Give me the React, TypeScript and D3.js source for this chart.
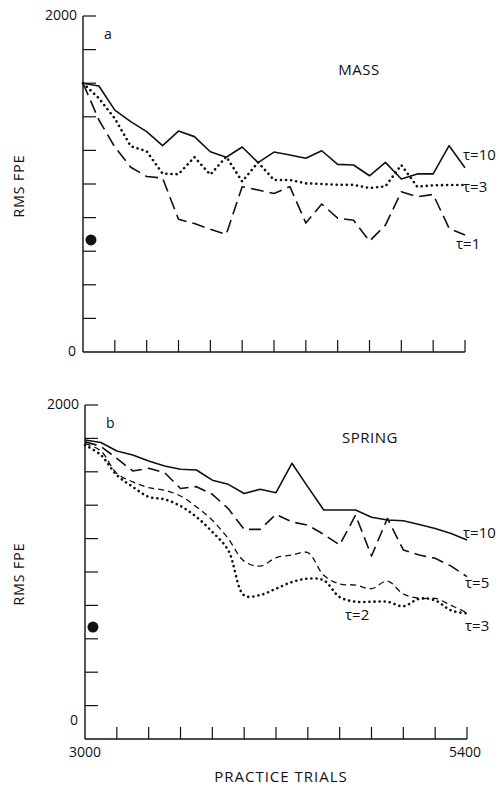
import React from "react";
import * as d3 from "d3";

const trials = [3000, 3100, 3200, 3300, 3400, 3500, 3600, 3700, 3800, 3900, 4000, 4100, 4200, 4300, 4400, 4500, 4600, 4700, 4800, 4900, 5000, 5100, 5200, 5300, 5400];

// Panel a: MASS
const massTau10 = [1600, 1583, 1440, 1371, 1312, 1228, 1315, 1282, 1192, 1159, 1220, 1127, 1190, 1173, 1153, 1198, 1117, 1113, 1049, 1129, 1030, 1060, 1060, 1228, 1097];
const massTau3 = [1600, 1510, 1390, 1225, 1195, 1062, 1058, 1160, 1056, 1163, 1015, 1129, 1024, 1024, 1004, 1000, 995, 995, 976, 986, 1113, 984, 992, 994, 994];
const massTau1 = [1600, 1381, 1220, 1100, 1045, 1035, 790, 765, 730, 700, 984, 964, 944, 984, 768, 881, 797, 784, 660, 755, 954, 924, 938, 736, 696];

// Panel b: SPRING
const springTau10 = [1790, 1775, 1725, 1700, 1665, 1635, 1615, 1611, 1550, 1525, 1470, 1495, 1475, 1651, 1510, 1371, 1371, 1371, 1328, 1311, 1307, 1285, 1261, 1230, 1192];
const springTau5 = [1780, 1752, 1680, 1605, 1621, 1595, 1500, 1511, 1465, 1380, 1255, 1255, 1345, 1300, 1280, 1225, 1162, 1341, 1096, 1321, 1132, 1102, 1082, 1035, 972];
const springTau3 = [1770, 1725, 1590, 1540, 1505, 1490, 1455, 1390, 1310, 1200, 1065, 1035, 1085, 1102, 1116, 980, 928, 922, 900, 946, 868, 842, 842, 800, 756];
const springTau2 = [1760, 1700, 1580, 1510, 1450, 1435, 1395, 1330, 1240, 1130, 860, 862, 900, 940, 960, 950, 850, 822, 822, 822, 795, 840, 830, 770, 752];

const yTicks = [200, 400, 600, 800, 1000, 1200, 1400, 1600, 1800, 2000];
const xTicks = [3200, 3400, 3600, 3800, 4000, 4200, 4400, 4600, 4800, 5000, 5200, 5400];

const pointA = { trial: 3050, value: 667 };
const pointB = { trial: 3050, value: 670 };

const FONT = "'Open Sans', 'DejaVu Sans', sans-serif";

type SeriesDef = {
  values: number[];
  dash: string | null;
  width: number;
  cap: string;
  curve: any;
};

function Panel(props: {
  x0: number; x1: number; yTop: number; yBottom: number;
  letter: string; title: string; titleX: number; titleY: number;
  series: SeriesDef[]; labels: { text: string; x: number; y: number }[];
  dot: { trial: number; value: number };
  zeroDy: number;
}) {
  const x = d3.scaleLinear().domain([3000, 5400]).range([props.x0, props.x1]);
  const y = d3.scaleLinear().domain([0, 2000]).range([props.yBottom, props.yTop]);
  return (
    <g>
      <line x1={x(3000)} x2={x(3000)} y1={y(0)} y2={y(2000)} stroke="#111" strokeWidth={1.4} />
      <line x1={x(3000)} x2={x(5400)} y1={y(0)} y2={y(0)} stroke="#111" strokeWidth={1.4} />
      {yTicks.map((t) => (
        <line key={"y" + t} x1={x(3000)} x2={x(3000) + 13} y1={y(t)} y2={y(t)} stroke="#111" strokeWidth={1.2} />
      ))}
      {xTicks.map((t) => (
        <line key={"x" + t} x1={x(t)} x2={x(t)} y1={y(0)} y2={y(0) - 12} stroke="#111" strokeWidth={1.2} />
      ))}
      <text x={x(3000) - 6} y={y(2000)} fontFamily={FONT} fontSize={14} textAnchor="end" dominantBaseline="middle" fill="#111">2000</text>
      <text x={x(3000) - 7} y={y(0) + props.zeroDy} fontFamily={FONT} fontSize={14} textAnchor="end" dominantBaseline="middle" fill="#111">0</text>
      <text x={props.x0 + 21} y={props.yTop + 19} fontFamily={FONT} fontSize={14} dominantBaseline="middle" fill="#111">{props.letter}</text>
      <text x={props.titleX} y={props.titleY} fontFamily={FONT} fontSize={15} textAnchor="middle" dominantBaseline="middle" fill="#111" letterSpacing={0.5}>{props.title}</text>
      <text transform={`translate(20,${(y(0) + y(2000)) / 2 + 2}) rotate(-90)`} fontFamily={FONT} fontSize={14} textAnchor="middle" dominantBaseline="middle" fill="#111" letterSpacing={1}>RMS FPE</text>
      {props.series.map((s, i) => {
        const line = d3.line<number>().x((_, j) => x(trials[j])).y((v) => y(v)).curve(s.curve);
        return (
          <path key={i} d={line(s.values) || ""} fill="none" stroke="#111" strokeWidth={s.width}
            strokeDasharray={s.dash || undefined} strokeLinecap={s.cap as any} strokeLinejoin="round" />
        );
      })}
      <circle cx={x(props.dot.trial)} cy={y(props.dot.value)} r={5.5} fill="#111" />
      {props.labels.map((l, i) => (
        <text key={i} x={l.x} y={l.y} fontFamily={FONT} fontSize={15} dominantBaseline="middle" fill="#111">{l.text}</text>
      ))}
    </g>
  );
}

export default function App() {
  const xB = d3.scaleLinear().domain([3000, 5400]).range([85, 467]);
  return (
    <svg width={499} height={787} style={{ position: "absolute", left: 0, top: 0, background: "#fff" }}>
      <rect x={0} y={0} width={499} height={787} fill="#fff" />
      <Panel
        x0={83} x1={465} yTop={16} yBottom={352}
        letter="a" title="MASS" titleX={359} titleY={71}
        zeroDy={0}
        dot={pointA}
        series={[
          { values: massTau10, dash: null, width: 1.6, cap: "butt", curve: d3.curveLinear },
          { values: massTau3, dash: "0.1,5", width: 2.6, cap: "round", curve: d3.curveLinear },
          { values: massTau1, dash: "13,6", width: 1.6, cap: "butt", curve: d3.curveLinear },
        ]}
        labels={[
          { text: "τ=10", x: 463, y: 156 },
          { text: "τ=3", x: 463, y: 188 },
          { text: "τ=1", x: 456, y: 245 },
        ]}
      />
      <Panel
        x0={85} x1={467} yTop={405} yBottom={739}
        letter="b" title="SPRING" titleX={370} titleY={439}
        zeroDy={-18}
        dot={pointB}
        series={[
          { values: springTau10, dash: null, width: 1.6, cap: "butt", curve: d3.curveLinear },
          { values: springTau5, dash: "12,6", width: 1.6, cap: "butt", curve: d3.curveLinear },
          { values: springTau3, dash: "6,4", width: 1.3, cap: "butt", curve: d3.curveCatmullRom },
          { values: springTau2, dash: "0.1,5", width: 2.6, cap: "round", curve: d3.curveCatmullRom },
        ]}
        labels={[
          { text: "τ=10", x: 463, y: 534 },
          { text: "τ=5", x: 465, y: 584 },
          { text: "τ=3", x: 465, y: 627 },
          { text: "τ=2", x: 345, y: 616 },
        ]}
      />
      <text x={xB(3000)} y={753} fontFamily={FONT} fontSize={14} textAnchor="middle" dominantBaseline="middle" fill="#111">3000</text>
      <text x={xB(5400) - 2} y={753} fontFamily={FONT} fontSize={14} textAnchor="middle" dominantBaseline="middle" fill="#111">5400</text>
      <text x={281} y={778} fontFamily={FONT} fontSize={15} textAnchor="middle" dominantBaseline="middle" fill="#111" letterSpacing={1}>PRACTICE TRIALS</text>
    </svg>
  );
}
